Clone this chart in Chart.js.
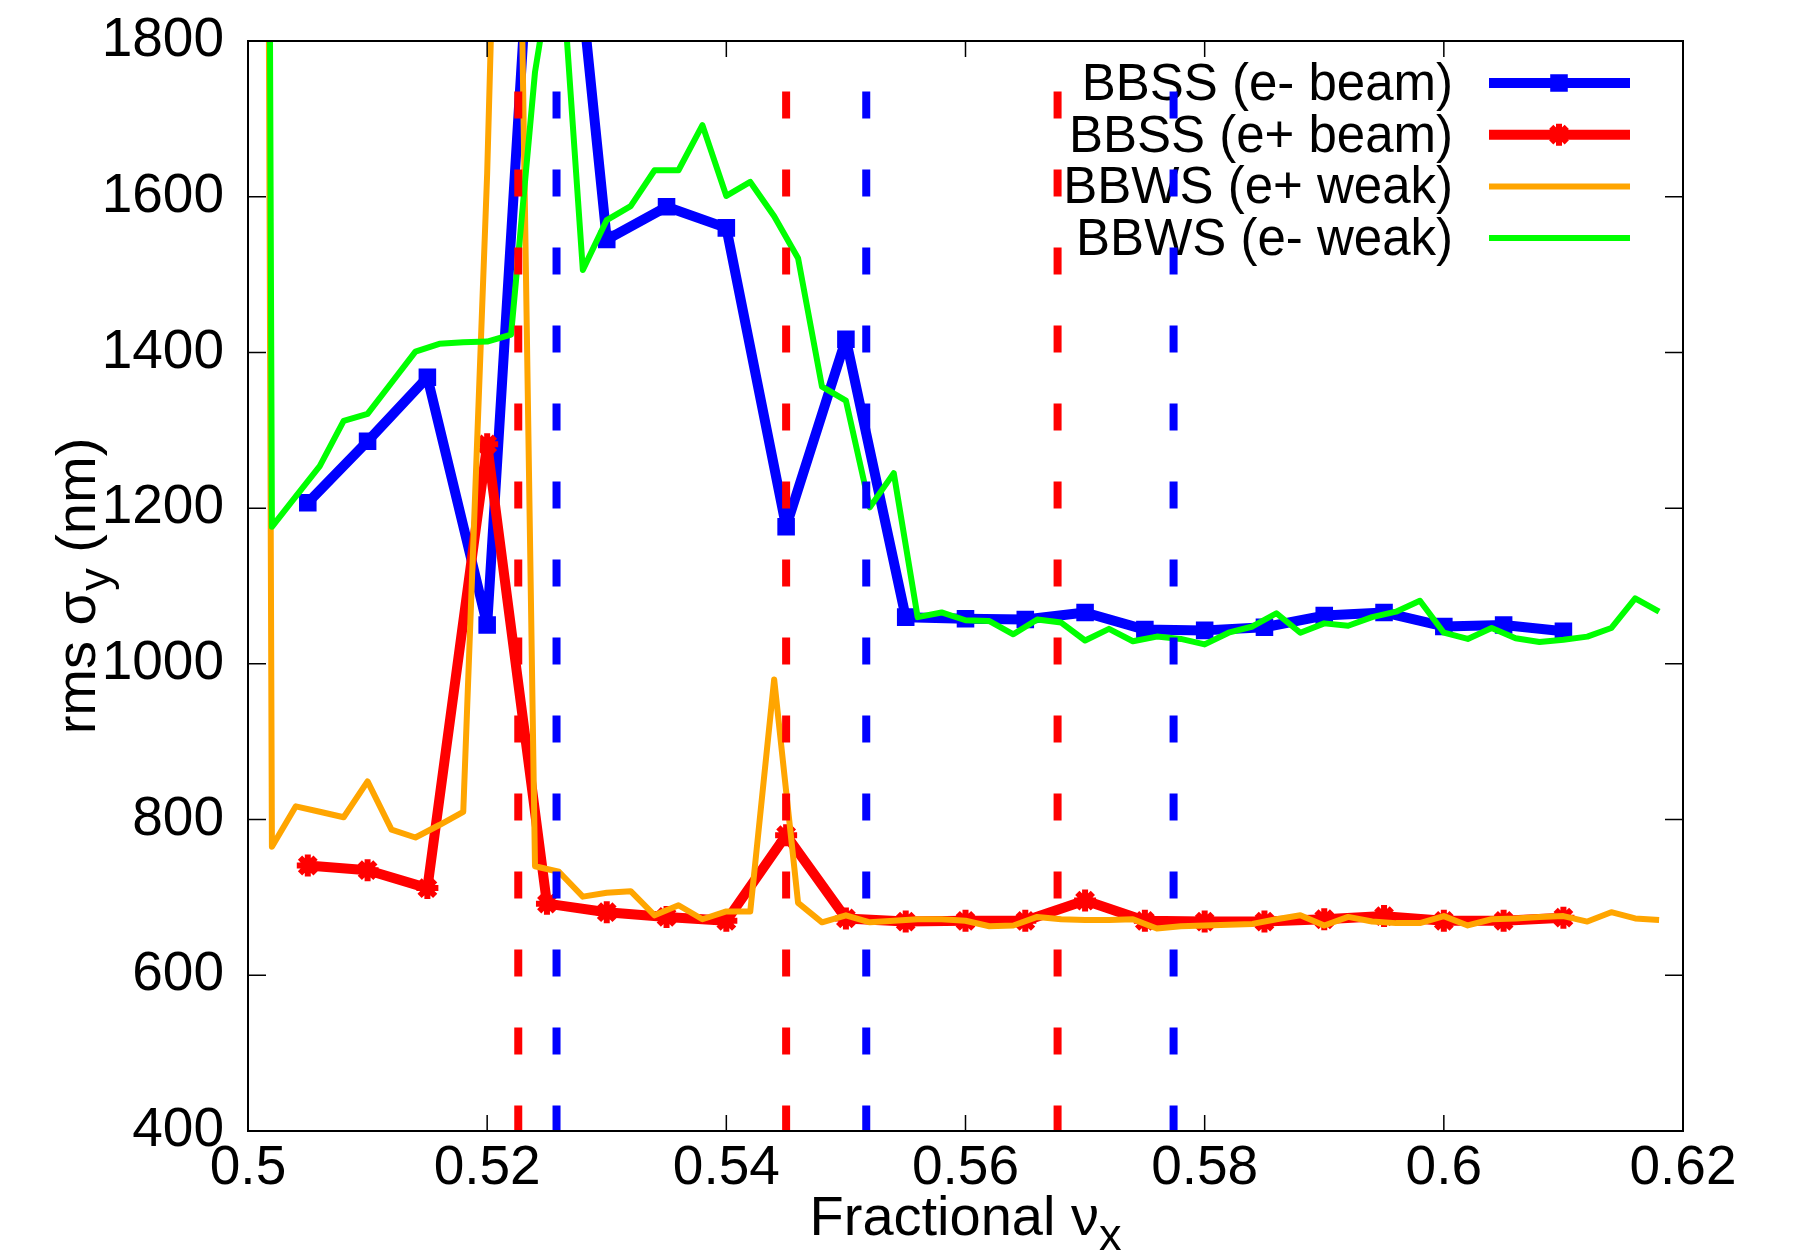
<!DOCTYPE html>
<html>
<head>
<meta charset="utf-8">
<title>rms sigma_y vs fractional tune</title>
<script src="https://cdn.jsdelivr.net/npm/chart.js@4.4.1/dist/chart.umd.min.js"></script>
<style>
  html, body { margin: 0; padding: 0; background: #fff; }
  #wrap { width: 1803px; height: 1251px; position: relative; }
</style>
</head>
<body>
<div id="wrap"><canvas id="tuneScan"></canvas></div>
<script>
// strong-strong runs, one point every 0.005
const xBeam = [0.505, 0.51, 0.515, 0.52, 0.525, 0.53, 0.535, 0.54, 0.545, 0.55, 0.555,
  0.56, 0.565, 0.57, 0.575, 0.58, 0.585, 0.59, 0.595, 0.6, 0.605, 0.61];
const bbssElectron = [1207, 1286, 1368, 1050, 2300, 1545, 1587, 1560, 1176, 1417, 1060,
  1058, 1057, 1066, 1044, 1043, 1047, 1062, 1066, 1048, 1050, 1042];
const bbssPositron = [741, 735, 712, 1282, 692, 681, 675, 670, 780, 673, 669,
  670, 670, 696, 670, 669, 669, 672, 676, 670, 670, 674];

// weak-strong runs, one point every 0.002
const xWeak = [0.5, 0.502, 0.504, 0.506, 0.508, 0.51, 0.512, 0.514, 0.516, 0.518,
  0.52, 0.522, 0.524, 0.526, 0.528, 0.53, 0.532, 0.534, 0.536, 0.538,
  0.54, 0.542, 0.544, 0.546, 0.548, 0.55, 0.552, 0.554, 0.556, 0.558,
  0.56, 0.562, 0.564, 0.566, 0.568, 0.57, 0.572, 0.574, 0.576, 0.578,
  0.58, 0.582, 0.584, 0.586, 0.588, 0.59, 0.592, 0.594, 0.596, 0.598,
  0.6, 0.602, 0.604, 0.606, 0.608, 0.61, 0.612, 0.614, 0.616, 0.618];
const bbwsPositron = [9000, 765, 817, 810, 803, 849, 787, 777, 793, 810,
  1630, 2750, 740, 733, 701, 706, 708, 677, 690, 672,
  682, 682, 980, 693, 668, 677, 668, 670, 672, 672,
  670, 663, 664, 675, 672, 671, 671, 672, 660, 663,
  664, 665, 666, 672, 677, 664, 675, 669, 667, 667,
  676, 664, 672, 673, 675, 676, 669, 681, 673, 671];
const bbwsElectron = [9000, 1176, 1215, 1254, 1312, 1321, 1361, 1401, 1411, 1413,
  1414, 1423, 1760, 1950, 1506, 1570, 1588, 1634, 1634, 1692,
  1601, 1619, 1575, 1521, 1356, 1338, 1201, 1245, 1060, 1066,
  1056, 1055, 1038, 1057, 1053, 1030, 1045, 1029, 1035, 1032,
  1025, 1040, 1048, 1065, 1040, 1052, 1049, 1060, 1067, 1081,
  1040, 1032, 1046, 1033, 1028, 1031, 1035, 1046, 1084, 1067];

// resonance markers (dashed verticals)
const redResonances = [0.5226, 0.545, 0.5677];
const blueResonances = [0.5258, 0.5517, 0.5774];
const resonanceSpan = [1735, 400];

const xTicks = [0.5, 0.52, 0.54, 0.56, 0.58, 0.6, 0.62];
const xTickLabels = ["0.5", "0.52", "0.54", "0.56", "0.58", "0.6", "0.62"];
const yTicks = [400, 600, 800, 1000, 1200, 1400, 1600, 1800];
const yTickLabels = ["400", "600", "800", "1000", "1200", "1400", "1600", "1800"];

const legendLabels = ["BBSS (e- beam)", "BBSS (e+ beam)", "BBWS (e+ weak)", "BBWS (e- weak)"];

function toPoints(xs, ys) {
  return xs.map(function (x, i) {
    return { x: x, y: ys[i] };
  });
}

const FONT = "'Liberation Sans', Arial, sans-serif";

// text with one subscript piece, centred on (0,0) baseline
function drawSubText(ctx, parts) {
  const mainFont = "56px " + FONT;
  const subFont = "45px " + FONT;
  let total = 0;
  parts.forEach(function (p) {
    ctx.font = p.sub ? subFont : mainFont;
    p.w = ctx.measureText(p.text).width;
    total += p.w;
  });
  let x = -total / 2;
  parts.forEach(function (p) {
    ctx.font = p.sub ? subFont : mainFont;
    ctx.fillText(p.text, x, p.sub ? 15 : 0);
    x += p.w;
  });
}

const gnuplotLook = {
  id: "gnuplotLook",
  beforeDatasetsDraw(chart) {
    const ctx = chart.ctx;
    ctx.save();
    chart.data.datasets.forEach(function (ds) {
      if (ds.legendRow === undefined) return;
      const y = 83 + ds.legendRow * 51.7;
      ctx.font = "51px " + FONT;
      ctx.textAlign = "right";
      ctx.textBaseline = "alphabetic";
      ctx.fillStyle = "#000";
      ctx.fillText(ds.label, 1453, y + 17);
      // sample line
      ctx.strokeStyle = ds.borderColor;
      ctx.lineWidth = ds.borderWidth;
      ctx.beginPath();
      ctx.moveTo(1489, y);
      ctx.lineTo(1630, y);
      ctx.stroke();
      if (ds.pointRadius > 0) {
        ctx.fillStyle = ds.pointBackgroundColor;
        ctx.strokeStyle = ds.pointBorderColor;
        ctx.lineWidth = ds.pointBorderWidth;
        Chart.helpers.drawPoint(ctx, {
          pointStyle: ds.pointStyle,
          radius: ds.pointRadius,
          borderWidth: ds.pointBorderWidth,
          rotation: 0,
        }, 1559, y);
      }
    });
    ctx.restore();
  },
  afterDraw(chart) {
    const ctx = chart.ctx;
    const area = chart.chartArea;
    const xs = chart.scales.x;
    const ys = chart.scales.y;
    ctx.save();
    ctx.strokeStyle = "#000";
    ctx.lineWidth = 2;
    ctx.strokeRect(area.left, area.top, area.right - area.left, area.bottom - area.top);

    // inward ticks, mirrored
    ctx.lineWidth = 1.5;
    ctx.beginPath();
    xTicks.forEach(function (v) {
      const px = xs.getPixelForValue(v);
      ctx.moveTo(px, area.bottom);
      ctx.lineTo(px, area.bottom - 16);
      ctx.moveTo(px, area.top);
      ctx.lineTo(px, area.top + 16);
    });
    yTicks.forEach(function (v) {
      const py = ys.getPixelForValue(v);
      ctx.moveTo(area.left, py);
      ctx.lineTo(area.left + 18, py);
      ctx.moveTo(area.right, py);
      ctx.lineTo(area.right - 18, py);
    });
    ctx.stroke();

    // axis titles
    ctx.fillStyle = "#000";
    ctx.textAlign = "left";
    ctx.textBaseline = "alphabetic";
    ctx.save();
    ctx.translate((area.left + area.right) / 2, 1235);
    drawSubText(ctx, [{ text: "Fractional \u03bd" }, { text: "x", sub: true }]);
    ctx.restore();

    ctx.save();
    ctx.translate(95, (area.top + area.bottom) / 2);
    ctx.rotate(-Math.PI / 2);
    drawSubText(ctx, [{ text: "rms \u03c3" }, { text: "y", sub: true }, { text: " (nm)" }]);
    ctx.restore();

    ctx.restore();
  },
};

const datasets = [
  {
    label: legendLabels[0],
    data: toPoints(xBeam, bbssElectron),
    borderColor: "#0000ff",
    borderWidth: 10,
    borderJoinStyle: "round",
    pointStyle: "rect",
    pointRadius: 11,
    pointBorderWidth: 2,
    pointBackgroundColor: "#0000ff",
    pointBorderColor: "#0000ff",
    order: 4,
    legendRow: 0,
  },
  {
    label: legendLabels[1],
    data: toPoints(xBeam, bbssPositron),
    borderColor: "#ff0000",
    borderWidth: 10,
    borderJoinStyle: "round",
    pointStyle: "star",
    pointRadius: 11,
    pointBorderWidth: 6,
    pointBackgroundColor: "#ff0000",
    pointBorderColor: "#ff0000",
    order: 3,
    legendRow: 1,
  },
  {
    label: legendLabels[2],
    data: toPoints(xWeak, bbwsPositron),
    borderColor: "#ffa500",
    borderWidth: 6,
    borderJoinStyle: "round",
    pointRadius: 0,
    order: 2,
    legendRow: 2,
  },
  {
    label: legendLabels[3],
    data: toPoints(xWeak, bbwsElectron),
    borderColor: "#00ff00",
    borderWidth: 6,
    borderJoinStyle: "round",
    pointRadius: 0,
    order: 1,
    legendRow: 3,
  },
];

redResonances.forEach(function (x) {
  datasets.push({
    label: "resonance",
    data: resonanceSpan.map(function (y) { return { x: x, y: y }; }),
    borderColor: "#ff0000",
    borderWidth: 8,
    borderDash: [27, 51],
    pointRadius: 0,
    order: 0,
  });
});
blueResonances.forEach(function (x) {
  datasets.push({
    label: "resonance",
    data: resonanceSpan.map(function (y) { return { x: x, y: y }; }),
    borderColor: "#0000ff",
    borderWidth: 8,
    borderDash: [27, 51],
    pointRadius: 0,
    order: 0,
  });
});

new Chart(document.getElementById("tuneScan"), {
  type: "line",
  data: { datasets: datasets },
  options: {
    responsive: true,
    maintainAspectRatio: false,
    animation: false,
    layout: { padding: { left: 0, right: 120, top: 41, bottom: 0 } },
    plugins: {
      legend: { display: false },
      tooltip: { enabled: false },
    },
    scales: {
      x: {
        type: "linear",
        min: 0.5,
        max: 0.62,
        afterBuildTicks: function (scale) {
          scale.ticks = xTicks.map(function (v) { return { value: v }; });
        },
        afterFit: function (scale) {
          scale.height = 120;
          scale.paddingLeft = 0;
          scale.paddingRight = 0;
        },
        grid: { display: false, drawTicks: false },
        border: { display: false },
        ticks: {
          padding: 5,
          maxRotation: 0,
          autoSkip: false,
          color: "#000",
          font: { family: FONT, size: 55 },
          callback: function (value, index) {
            return xTickLabels[index];
          },
        },
      },
      y: {
        type: "linear",
        min: 400,
        max: 1800,
        afterBuildTicks: function (scale) {
          scale.ticks = yTicks.map(function (v) { return { value: v }; });
        },
        afterFit: function (scale) {
          scale.width = 248;
          scale.paddingTop = 0;
          scale.paddingBottom = 0;
        },
        grid: { display: false, drawTicks: false },
        border: { display: false },
        ticks: {
          padding: 24,
          autoSkip: false,
          color: "#000",
          font: { family: FONT, size: 55 },
          callback: function (value, index) {
            return yTickLabels[index];
          },
        },
      },
    },
  },
  plugins: [gnuplotLook],
});
</script>
</body>
</html>
